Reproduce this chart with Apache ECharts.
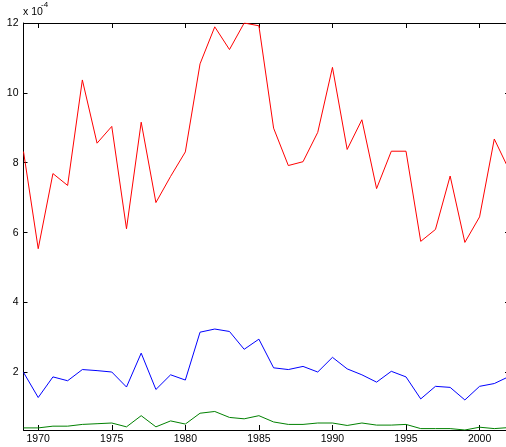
<!DOCTYPE html>
<html>
<head>
<meta charset="utf-8">
<script src="https://cdn.jsdelivr.net/npm/echarts@6/dist/echarts.min.js"></script>
<style>
  html, body { margin: 0; padding: 0; background: #fff; }
  #chart { width: 506px; height: 447px; }
</style>
</head>
<body>
<div id="chart"></div>
<script>
// Yearly series, values in units of 1e-4
const years = [1969, 1970, 1971, 1972, 1973, 1974, 1975, 1976, 1977, 1978, 1979,
  1980, 1981, 1982, 1983, 1984, 1985, 1986, 1987, 1988, 1989, 1990, 1991,
  1992, 1993, 1994, 1995, 1996, 1997, 1998, 1999, 2000, 2001, 2002];

const redValues = [8.32, 5.54, 7.69, 7.35, 10.37, 8.56, 9.04, 6.11, 9.16, 6.86, 7.61,
  8.31, 10.83, 11.89, 11.24, 12.0, 11.92, 8.99, 7.92, 8.03, 8.87, 10.73, 8.38,
  9.23, 7.26, 8.33, 8.33, 5.75, 6.09, 7.62, 5.72, 6.45, 8.68, 7.8];

const blueValues = [2.0, 1.28, 1.87, 1.76, 2.08, 2.05, 2.01, 1.58, 2.55, 1.51, 1.93,
  1.78, 3.15, 3.24, 3.17, 2.66, 2.95, 2.13, 2.08, 2.17, 2.01, 2.43, 2.10,
  1.93, 1.72, 2.03, 1.87, 1.24, 1.60, 1.57, 1.21, 1.60, 1.68, 1.88];

const greenValues = [0.41, 0.41, 0.46, 0.46, 0.51, 0.53, 0.55, 0.44, 0.76, 0.44, 0.61,
  0.52, 0.83, 0.88, 0.71, 0.67, 0.76, 0.58, 0.51, 0.51, 0.55, 0.55, 0.48,
  0.55, 0.49, 0.49, 0.51, 0.39, 0.39, 0.39, 0.35, 0.43, 0.39, 0.42];

const xTicks = [1970, 1975, 1980, 1985, 1990, 1995, 2000];
const yTicks = [2, 4, 6, 8, 10, 12];

const pairs = vals => years.map((y, i) => [y, vals[i]]);

const FONT = 'Liberation Sans, Arial, sans-serif';
const FONT_SIZE = 10.5;
const axisLine = { show: true, lineStyle: { color: '#000', width: 1 } };
const plain = v => String(v);

const chart = echarts.init(document.getElementById('chart'), null, { renderer: 'canvas' });
chart.setOption({
  animation: false,
  backgroundColor: '#fff',
  grid: { left: 23.5, right: -3, top: 23, bottom: 17, outerBoundsMode: 'none', containLabel: false },
  xAxis: [
    {
      type: 'value', position: 'bottom', min: 1969, max: 2002,
      axisLine: axisLine,
      axisTick: { show: true, inside: true, length: 5, customValues: xTicks, lineStyle: { color: '#000' } },
      axisLabel: { show: true, customValues: xTicks, formatter: plain, fontSize: FONT_SIZE, fontFamily: FONT, color: '#000', margin: 4 },
      splitLine: { show: false }
    },
    {
      type: 'value', position: 'top', min: 1969, max: 2002,
      axisLine: axisLine,
      axisTick: { show: true, inside: true, length: 5, customValues: xTicks, lineStyle: { color: '#000' } },
      axisLabel: { show: false },
      splitLine: { show: false }
    }
  ],
  yAxis: [
    {
      type: 'value', position: 'left', min: 0.35, max: 12,
      axisLine: axisLine,
      axisTick: { show: true, inside: true, length: 4, customValues: yTicks, lineStyle: { color: '#000' } },
      axisLabel: { show: true, customValues: yTicks, formatter: plain, fontSize: FONT_SIZE, fontFamily: FONT, color: '#000', margin: 5 },
      splitLine: { show: false }
    },
    {
      type: 'value', position: 'right', min: 0.35, max: 12,
      axisLine: axisLine,
      axisTick: { show: true, inside: true, length: 4, customValues: yTicks, lineStyle: { color: '#000' } },
      axisLabel: { show: false },
      splitLine: { show: false }
    }
  ],
  graphic: [
    { type: 'text', left: 23, top: 7, style: { text: 'x 10', font: FONT_SIZE + 'px ' + FONT, fill: '#000' } },
    { type: 'text', left: 41, top: 1, style: { text: '-4', font: '8px ' + FONT, fill: '#000' } }
  ],
  series: [
    { type: 'line', data: pairs(redValues), showSymbol: false, lineStyle: { color: '#ff0000', width: 1 }, itemStyle: { color: '#ff0000' } },
    { type: 'line', data: pairs(blueValues), showSymbol: false, lineStyle: { color: '#0000ff', width: 1 }, itemStyle: { color: '#0000ff' } },
    { type: 'line', data: pairs(greenValues), showSymbol: false, lineStyle: { color: '#008000', width: 1 }, itemStyle: { color: '#008000' } }
  ]
});
</script>
</body>
</html>
